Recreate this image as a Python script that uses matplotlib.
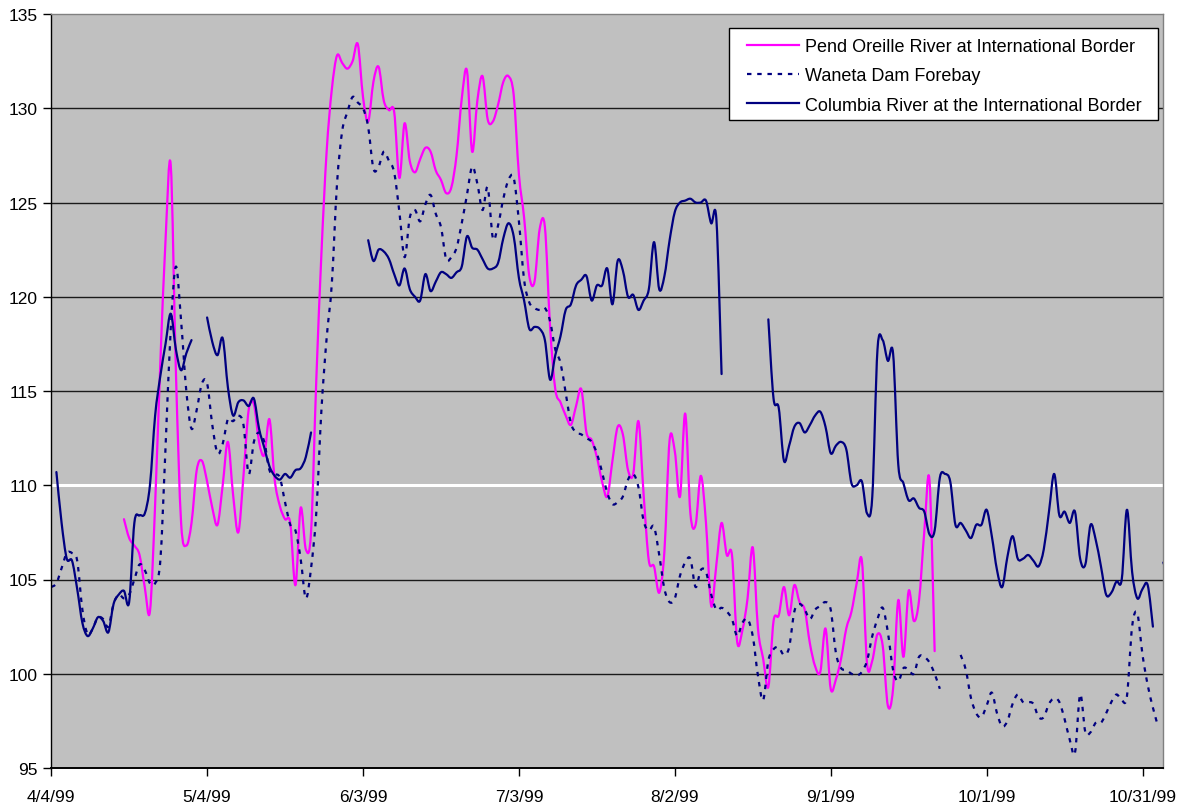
import numpy as np
import pandas as pd
import matplotlib
matplotlib.use("Agg")
import matplotlib.pyplot as plt
import matplotlib.dates as mdates
from matplotlib.patches import Rectangle, PathPatch
from matplotlib.path import Path
from matplotlib.lines import Line2D

plt.rcParams["font.family"] = ["Liberation Sans", "DejaVu Sans"]

nan = np.nan

# Daily total dissolved gas (% saturation), 4 Apr 1999 onward
start_date = "1999-04-04"
n_days = 216

pend_oreille = (
    [nan] * 14 +
    [108.2, 107.2, 106.8, 106.3, 104.6, 103.3,
     109.0, 116.5, 123.0, 127.0, 116.0, 108.0, 106.8, 108.0, 110.8, 111.3,
     110.2, 108.8, 107.9, 110.0, 112.3, 109.5, 107.5, 110.5, 114.0, 114.3,
     112.3, 111.6, 113.5, 110.3, 108.9, 108.2, 108.0, 104.7, 108.8, 106.6,
     107.5, 115.5, 122.3, 127.7, 131.0, 132.8, 132.4, 132.1, 132.5, 133.4,
     130.6, 129.3, 131.4, 132.2, 130.4, 129.9, 129.8, 126.3, 129.2, 127.2,
     126.6, 127.3, 127.9, 127.7, 126.7, 126.2, 125.5, 125.8, 127.5, 130.5,
     132.0, 127.7, 130.4, 131.7, 129.4, 129.3, 130.2, 131.4, 131.7, 130.7,
     126.5, 124.2, 121.1, 120.8, 123.6, 123.7, 118.4, 115.1, 114.4, 113.7,
     113.2, 114.2, 115.1, 112.8, 112.4, 111.5, 110.2, 109.4, 111.3, 113.1,
     112.7, 110.8, 110.6, 113.4, 109.5, 106.0, 105.7, 104.3, 106.5, 112.4,
     111.8, 109.4, 113.8, 108.5, 107.9, 110.5, 108.0, 103.6, 105.8, 108.0,
     106.3, 106.3, 101.7, 102.3, 104.0, 106.7, 102.4, 100.8, 99.3, 102.8,
     103.1, 104.6, 103.1, 104.7, 103.8, 103.4, 101.6, 100.4, 100.1, 102.4,
     99.2, 99.7, 100.8, 102.4, 103.3, 104.8, 106.0, 100.5, 100.7, 102.1,
     101.5, 98.3, 99.2, 103.9, 100.9, 104.4, 102.8, 103.9, 107.5, 110.3,
     101.2] +
    [nan] * 45
)

waneta_forebay = [
    104.6, 104.8, 105.6, 106.4, 106.4, 106.0, 103.4, 102.1, 102.4, 103.0,
    102.9, 102.5, 103.7, 104.2, 104.0, 104.2, 105.0, 105.8, 105.5, 104.8,
    104.8, 106.0, 112.0, 118.3, 121.6, 118.7, 115.0, 113.0, 114.0, 115.4,
    115.4, 113.2, 111.7, 112.2, 113.5, 113.4, 113.7, 113.2, 110.6, 112.3,
    112.8, 112.3, 110.8, 110.6, 110.4, 109.1, 107.9, 107.6, 106.1, 104.0,
    105.6, 108.5, 114.0, 117.8, 120.7, 126.0, 128.8, 129.8, 130.6, 130.3,
    130.0, 129.0, 126.8, 126.9, 127.7, 127.2, 126.6, 124.5, 122.1, 124.2,
    124.6, 124.0, 124.9, 125.4, 124.4, 123.7, 122.0, 122.1, 122.6, 123.9,
    125.4, 126.9, 126.0, 124.6, 125.8, 123.1, 123.8, 125.2, 126.2, 126.3,
    124.0, 120.9, 119.7, 119.4, 119.3, 119.4, 118.7, 117.2, 116.5, 114.9,
    113.3, 112.8, 112.7, 112.5, 112.3, 111.7, 110.7, 109.6, 109.0, 109.1,
    109.4, 110.3, 110.6, 109.9, 108.1, 107.6, 107.8, 106.3, 104.5, 103.8,
    104.0, 105.2, 105.9, 106.1, 104.6, 105.5, 105.4, 104.2, 103.4, 103.5,
    103.3, 102.9, 102.0, 102.7, 102.9, 102.0, 99.9, 98.6, 100.7, 101.3,
    101.4, 101.0, 101.4, 103.3, 103.7, 103.4, 102.9, 103.4, 103.6, 103.8,
    103.4, 101.1, 100.3, 100.2, 100.0, 99.9, 100.1, 100.7, 102.0, 102.9,
    103.5, 102.2, 100.2, 99.6, 100.3, 100.2, 100.0, 100.9, 100.9, 100.6,
    100.0, 99.2, nan, nan, nan, 101.0, 100.2, 98.7, 97.9, 97.7,
    98.3, 99.0, 97.9, 97.2, 97.5, 98.4, 98.9, 98.5, 98.5, 98.4,
    97.7, 97.7, 98.4, 98.7, 98.5, 97.6, 96.5, 95.8, 98.9, 96.9,
    96.9, 97.4, 97.4, 97.9, 98.5, 98.9, 98.6, 98.8, 102.5, 103.2,
    101.0, 99.4, 98.2, 97.2, nan, nan,
]

columbia_border = [
    nan, 110.7, 108.0, 106.1, 106.0, 104.5, 102.7, 102.0, 102.4, 103.0,
    102.8, 102.2, 103.7, 104.2, 104.4, 103.8, 108.0, 108.4, 108.5, 110.0,
    113.7, 115.8, 117.5, 119.1, 117.2, 116.1, 117.0, 117.7, nan, nan,
    118.9, 117.6, 116.9, 117.8, 115.2, 113.7, 114.4, 114.5, 114.2, 114.6,
    113.0, 112.0, 111.0, 110.5, 110.3, 110.6, 110.4, 110.8, 110.9, 111.5,
    112.8, nan, nan, nan, nan, nan, nan, nan, nan, nan,
    nan, 123.0, 121.9, 122.5, 122.4, 122.0, 121.2, 120.6, 121.5, 120.4,
    120.0, 119.8, 121.2, 120.3, 120.8, 121.3, 121.2, 121.0, 121.3, 121.6,
    123.2, 122.6, 122.5, 122.0, 121.5, 121.5, 121.8, 123.1, 123.9, 123.2,
    121.0, 119.8, 118.3, 118.4, 118.3, 117.7, 115.6, 116.9, 117.9, 119.3,
    119.6, 120.6, 120.9, 121.1, 119.8, 120.6, 120.6, 121.5, 119.6, 121.9,
    121.4, 120.0, 120.1, 119.3, 119.8, 120.4, 122.9, 120.4, 121.1, 123.0,
    124.5, 125.0, 125.1, 125.2, 125.0, 125.0, 125.1, 123.9, 124.1, 115.9,
    nan, nan, nan, nan, nan, nan, nan, nan, 118.8, 114.6,
    114.1, 111.3, 112.1, 113.1, 113.3, 112.8, 113.2, 113.7, 113.9, 113.1,
    111.7, 112.1, 112.3, 111.9, 110.1, 110.0, 110.2, 108.5, 109.4, 117.2,
    117.7, 116.6, 117.0, 111.1, 110.1, 109.2, 109.3, 108.8, 108.6, 107.4,
    107.6, 110.4, 110.6, 110.2, 107.9, 108.0, 107.6, 107.2, 107.9, 107.9,
    108.7, 107.3, 105.5, 104.6, 106.2, 107.3, 106.1, 106.1, 106.3, 106.0,
    105.7, 106.6, 108.6, 110.6, 108.4, 108.6, 108.0, 108.6, 106.1, 105.8,
    107.9, 107.1, 105.7, 104.2, 104.3, 104.9, 105.0, 108.7, 105.4, 104.0,
    104.5, 104.7, 102.5, nan, 105.9, 105.2,
]

series_labels = [
    "Pend Oreille River at International Border",
    "Waneta Dam Forebay",
    "Columbia River at the International Border",
]
series_colors = ["#FF00FF", "#000080", "#000080"]
series_styles = ["-", (0, (2.0, 2.6)), "-"]
tdg_standard = 110
y_ticks = list(range(95, 136, 5))

dates = pd.date_range(start_date, periods=n_days, freq="D")
xnum = mdates.date2num(dates.to_pydatetime())
tick_dates = pd.date_range(start_date, periods=8, freq="30D")
tick_labels = [f"{d.month}/{d.day}/{d:%y}" for d in tick_dates]


def smoothed_path(x, y):
    """Bezier path through the points (Catmull-Rom style), broken at gaps."""
    x = np.asarray(x, float)
    y = np.asarray(y, float)
    ok = np.isfinite(y)
    verts, codes = [], []
    i = 0
    n = len(y)
    while i < n:
        if not ok[i]:
            i += 1
            continue
        j = i
        while j + 1 < n and ok[j + 1]:
            j += 1
        pts = np.column_stack([x[i:j + 1], y[i:j + 1]])
        if len(pts) >= 2:
            verts.append(pts[0])
            codes.append(Path.MOVETO)
            m = len(pts)
            for k in range(m - 1):
                p_prev = pts[k - 1] if k > 0 else pts[k]
                p_next = pts[k + 2] if k + 2 < m else pts[k + 1]
                c1 = pts[k] + (pts[k + 1] - p_prev) / 6.0
                c2 = pts[k + 1] - (p_next - pts[k]) / 6.0
                verts.extend([c1, c2, pts[k + 1]])
                codes.extend([Path.CURVE4] * 3)
        i = j + 1
    return Path(np.array(verts), codes)


W, H = 1184, 804
fig = plt.figure(figsize=(W / 100, H / 100), dpi=100, facecolor="white")
ax_left, ax_right, ax_top, ax_bottom = 51.2, 1163.3, 15.0, 769.0
ax = fig.add_axes([ax_left / W, (H - ax_bottom) / H,
                   (ax_right - ax_left) / W, (ax_bottom - ax_top) / H])
ax.set_facecolor("#C0C0C0")

# horizontal gridlines, with the 110 % standard picked out in white
for v in y_ticks:
    if v == tdg_standard:
        ax.axhline(v, color="white", lw=2.2, zorder=1)
    elif v not in (y_ticks[0], y_ticks[-1]):
        ax.axhline(v, color="#1a1a1a", lw=1.0, zorder=1)

lw = 1.6
handles = []
for z, (vals, col, ls, lab) in enumerate(zip(
        [pend_oreille, waneta_forebay, columbia_border],
        series_colors, series_styles, series_labels)):
    patch = PathPatch(smoothed_path(xnum, vals), facecolor="none",
                      edgecolor=col, lw=lw, linestyle=ls, zorder=3 + z,
                      capstyle="butt" if ls != "-" else "round",
                      joinstyle="round")
    ax.add_patch(patch)
    handles.append(Line2D([], [], color=col, lw=lw, linestyle=ls, label=lab))

ax.set_xlim(mdates.date2num(pd.Timestamp(start_date)),
            mdates.date2num(pd.Timestamp("1999-11-04")))
ax.set_ylim(y_ticks[0], y_ticks[-1])
ax.set_yticks(y_ticks)
ax.set_yticklabels([str(v) for v in y_ticks])
ax.set_xticks(mdates.date2num(tick_dates.to_pydatetime()))
ax.set_xticklabels(tick_labels)
ax.tick_params(axis="y", direction="out", length=6, width=1, pad=4,
               labelsize=12.5, colors="black")
ax.tick_params(axis="x", direction="out", length=6, width=1, pad=9,
               labelsize=12.5, colors="black")

for side in ("top", "right"):
    ax.spines[side].set_color("#808080")
    ax.spines[side].set_linewidth(1.0)
ax.spines["left"].set_color("black")
ax.spines["left"].set_linewidth(1.0)
ax.spines["bottom"].set_color("black")
ax.spines["bottom"].set_linewidth(1.4)
for s in ax.spines.values():
    s.set_zorder(6)

# legend box
axw, axh = ax_right - ax_left, ax_bottom - ax_top
box_l, box_r, box_t, box_b = 729.3, 1158.3, 29.3, 121.0
ax.add_patch(Rectangle(((box_l - ax_left) / axw, (ax_bottom - box_b) / axh),
                       (box_r - box_l) / axw, (box_b - box_t) / axh,
                       transform=ax.transAxes, facecolor="white",
                       edgecolor="black", lw=1.0, zorder=7))
leg = ax.legend(handles=handles, loc="upper left",
                bbox_to_anchor=((747 - ax_left) / axw, (ax_bottom - 39.0) / axh),
                frameon=False, borderpad=0, borderaxespad=0,
                handlelength=2.9, handletextpad=0.3, labelspacing=0.68,
                prop={"size": 13})
leg.set_zorder(8)

fig.savefig("out.png", dpi=100, facecolor="white")
